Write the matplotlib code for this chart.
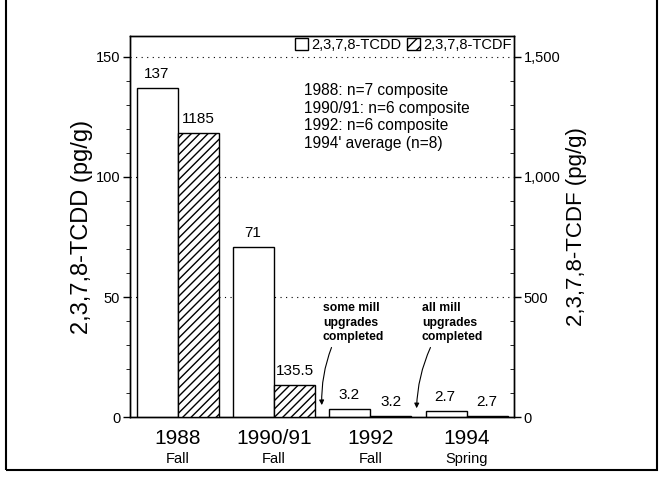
"""
TCDD / TCDF bar chart with twin y axes.
"""

from matplotlib import pyplot as plt
from matplotlib.patches import Rectangle, Patch
from matplotlib.transforms import blended_transform_factory
import numpy as np

plt.rcParams['font.family'] = ['Liberation Sans', 'DejaVu Sans']

years   = ["1988", "1990/91", "1992", "1994"]
seasons = ["Fall", "Fall", "Fall", "Spring"]
tcdd    = [137, 71, 3.2, 2.7]          # pg/g, left axis
tcdf    = [1185, 135.5, 3.2, 2.7]      # pg/g, right axis
tcdd_lbl = ["137", "71", "3.2", "2.7"]
tcdf_lbl = ["1185", "135.5", "3.2", "2.7"]
notes = ["1988: n=7 composite", "1990/91: n=6 composite",
         "1992: n=6 composite", "1994' average (n=8)"]

fig = plt.figure(figsize=(6.63, 4.80), dpi=100)
ax = fig.add_axes([0.196, 0.131, 0.579, 0.794])
ax2 = ax.twinx()

x = np.arange(len(years))
w = 0.425
ymax = 158.7

ax.bar(x - w/2, tcdd, w, facecolor="white", edgecolor="black", lw=1.0, zorder=3)
ax2.bar(x + w/2, tcdf, w, facecolor="white", edgecolor="black", lw=1.0,
        hatch="////", zorder=3)

ax.set_xlim(-0.498, 3.49)
ax.set_ylim(0, ymax)
ax2.set_ylim(0, ymax*10)

for v in [50, 100, 150]:
    ax.axhline(v, color="black", ls=(0, (1, 4)), lw=0.8, zorder=1)

ax.set_yticks([0, 50, 100, 150])
ax.set_yticks(np.arange(0, 151, 10), minor=True)
ax2.set_yticks([0, 500, 1000, 1500])
ax2.set_yticklabels(["0", "500", "1,000", "1,500"])
ax2.set_yticks(np.arange(0, 1501, 100), minor=True)
ax.tick_params(axis="y", labelsize=10.5, length=5, width=1, pad=2)
ax.tick_params(axis="y", which="minor", length=3)
ax2.tick_params(axis="y", labelsize=10.5, length=5, width=1, pad=2)
ax2.tick_params(axis="y", which="minor", length=3, direction="in")
ax.set_xticks([])

ax.set_ylabel("2,3,7,8-TCDD (pg/g)", fontsize=17, labelpad=2)
ax2.set_ylabel("2,3,7,8-TCDF (pg/g)", fontsize=16, labelpad=4)

for a in (ax, ax2):
    for s in a.spines.values():
        s.set_linewidth(1.0)

# category labels
tr = blended_transform_factory(ax.transData, ax.transAxes)
for i in range(len(years)):
    ax.text(x[i], -0.055, years[i], transform=tr, ha="center", va="center",
            fontsize=15)
    ax.text(x[i], -0.11, seasons[i], transform=tr, ha="center", va="center",
            fontsize=10.5)

# value labels
for i in range(len(years)):
    ax.annotate(tcdd_lbl[i], (x[i] - w/2, tcdd[i]), xytext=(-1, 14),
                textcoords="offset pixels", ha="center", va="center",
                fontsize=11, zorder=4)
    ax2.annotate(tcdf_lbl[i], (x[i] + w/2, tcdf[i]), xytext=(0, 14),
                 textcoords="offset pixels", ha="center", va="center",
                 fontsize=11, zorder=4)

# sample notes
ax.text(1.31, 139, "\n".join(notes), ha="left", va="top", fontsize=11.2,
        linespacing=1.2)

# mill upgrade annotations
for txt, tx, tip in [("some mill\nupgrades\ncompleted", 1.506, (1.495, 5)),
                     ("all mill\nupgrades\ncompleted", 2.534, (2.48, 3.7))]:
    ax.text(tx, 48, txt, ha="left", va="top", fontsize=8.8,
            fontweight="bold", linespacing=1.3)
    ax.annotate("", xy=tip, xytext=(tx + 0.09, 29),
                arrowprops=dict(arrowstyle="-|>", color="black", lw=0.8,
                                mutation_scale=7,
                                connectionstyle="arc3,rad=0.1",
                                shrinkA=0, shrinkB=0))

# legend
handles = [Patch(facecolor="white", edgecolor="black", label="2,3,7,8-TCDD"),
           Patch(facecolor="white", edgecolor="black", hatch="///",
                 label="2,3,7,8-TCDF")]
ax2.legend(handles=handles, loc="upper right", ncol=2, frameon=False,
           fontsize=10.5, handlelength=0.9, handleheight=0.9,
           handletextpad=0.2, columnspacing=0.4, borderaxespad=0.05,
           borderpad=0.1)

# outer frame
fig.patches.append(Rectangle((6/663, 10/480), 651/663, 1.2,
                             transform=fig.transFigure, fill=False,
                             edgecolor="black", lw=1.5))

fig.savefig("out.png", dpi=100)
